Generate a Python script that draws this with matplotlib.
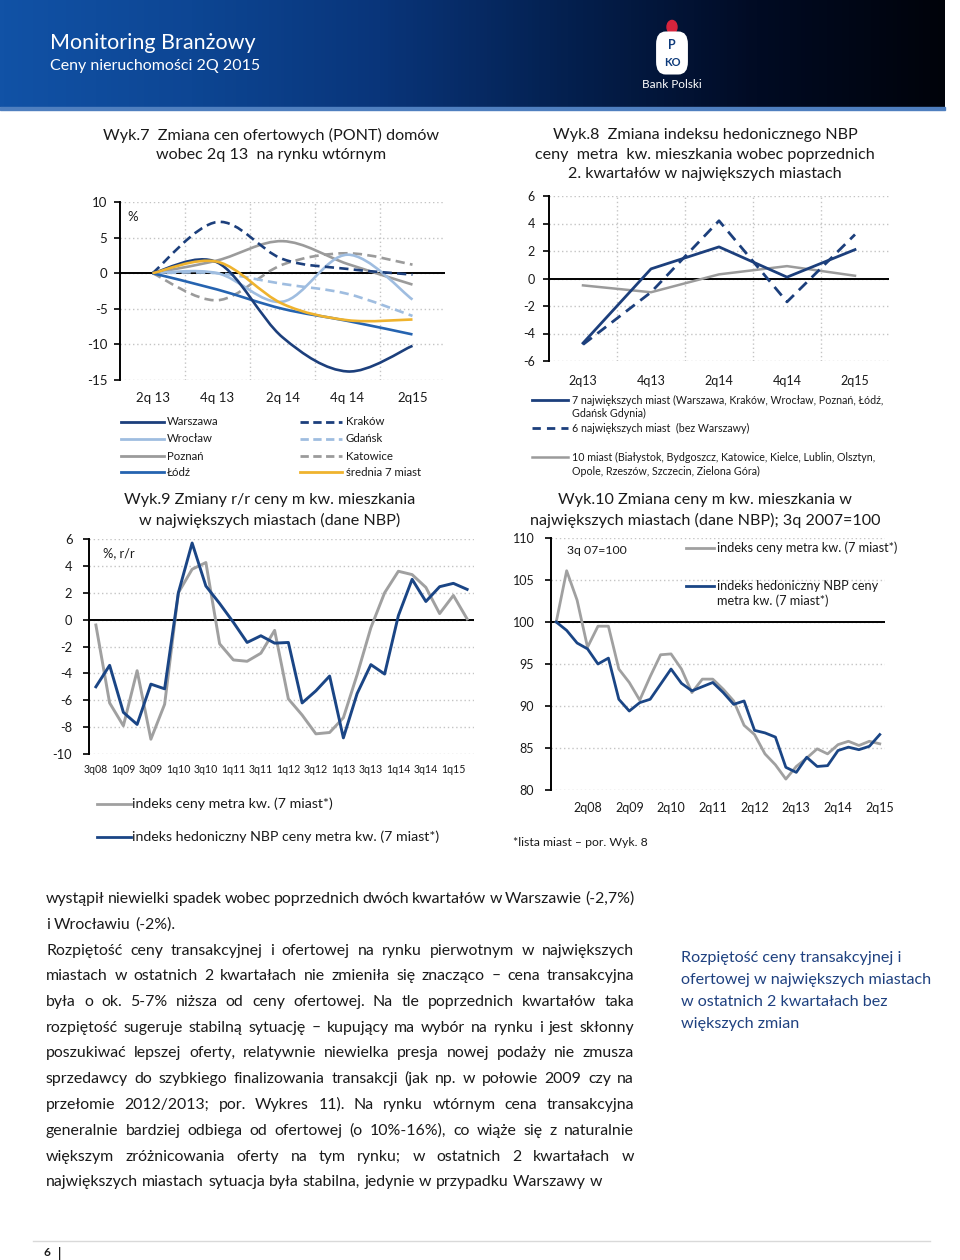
import numpy as np
import matplotlib
matplotlib.use("Agg")
import matplotlib.pyplot as plt
from matplotlib.path import Path
from matplotlib.patches import PathPatch, FancyBboxPatch, Circle, Rectangle
from matplotlib.lines import Line2D
from matplotlib.colors import LinearSegmentedColormap

plt.rcParams['font.family'] = ['Lato', 'DejaVu Sans']
plt.rcParams['axes.unicode_minus'] = False

# ---------------- data ----------------
# Wyk.7 (semi-annual points, % vs 2q13)
w7_labels = ["2q 13", "4q 13", "2q 14", "4q 14", "2q15"]
w7_warszawa = [0, 1.5, -9.0, -13.8, -10.2]
w7_wroclaw = [0, 0.0, -4.0, 2.6, -3.7]
w7_poznan = [0, 1.8, 4.5, 1.3, -1.6]
w7_lodz = [0, -2.3, -5.0, -6.7, -8.6]
w7_krakow = [0, 7.2, 2.0, 0.6, -0.2]
w7_gdansk = [0, 0.0, -1.5, -2.9, -6.0]
w7_katowice = [0, -3.8, 1.2, 2.8, 1.2]
w7_srednia = [0, 1.6, -4.3, -6.6, -6.5]

# Wyk.8
w8_labels = ["2q13", "4q13", "2q14", "4q14", "2q15"]
w8_7miast = [-4.7, 0.7, 2.3, 0.1, 2.1]
w8_6miast = [-4.8, -1.0, 4.2, -1.7, 3.2]
w8_10miast = [-0.5, -1.0, 0.3, 0.9, 0.2]

# Wyk.9 (quarterly 3q08..2q15, % r/r)
w9_labels = ["3q08", "1q09", "3q09", "1q10", "3q10", "1q11", "3q11", "1q12",
             "3q12", "1q13", "3q13", "1q14", "3q14", "1q15"]
w9_indeks = [-0.4, -6.2, -7.9, -3.8, -8.9, -6.3, 2.0, 3.75, 4.25, -1.8,
             -3.0, -3.1, -2.5, -0.8, -5.9, -7.1, -8.5, -8.4, -7.3, -4.1,
             -0.6, 2.0, 3.6, 3.35, 2.4, 0.45, 1.8, 0.05]
w9_hedon = [-5.0, -3.4, -6.9, -7.8, -4.8, -5.15, 2.0, 5.7, 2.5, 1.2,
            -0.2, -1.7, -1.2, -1.75, -1.7, -6.2, -5.3, -4.2, -8.8, -5.5,
            -3.35, -4.05, 0.3, 3.0, 1.35, 2.45, 2.7, 2.25]

# Wyk.10 (quarterly 3q07..2q15, 3q07=100)
w10_labels = ["2q08", "2q09", "2q10", "2q11", "2q12", "2q13", "2q14", "2q15"]
w10_indeks = [100, 106.1, 102.6, 97.0, 99.5, 99.5, 94.4, 92.8, 90.7, 93.5,
              96.1, 96.2, 94.4, 91.6, 93.2, 93.2, 92.0, 90.6, 87.7, 86.6,
              84.3, 83.0, 81.3, 82.8, 83.8, 84.9, 84.3, 85.4, 85.8, 85.3,
              85.8, 85.5]
w10_hedon = [100, 99.0, 97.5, 96.8, 95.0, 95.7, 90.8, 89.4, 90.4, 90.8,
             92.6, 94.4, 92.7, 91.8, 92.3, 92.8, 91.6, 90.2, 90.6, 87.1,
             86.8, 86.3, 82.7, 82.1, 83.9, 82.8, 82.9, 84.7, 85.1, 84.8,
             85.2, 86.6]

# ---------------- styles ----------------
W, H = 960, 1260
NAVY = '#1c3f7c'
MID = '#2563b0'
LIGHT = '#9fbde0'
GRAY = '#9b9b9b'
YELLOW = '#efb32e'
BLUE2 = '#1a4585'
TXT = '#1a1a1a'
GRID = '#c4c4c4'

fig = plt.figure(figsize=(W / 100, H / 100), dpi=100)


def T(x, y, s, size, ha='left', va='center', color=TXT, **kw):
    return fig.text(x / W, 1 - y / H, s, fontsize=size, ha=ha, va=va,
                    color=color, **kw)


def axes_px(l, t, r, b):
    return fig.add_axes([l / W, 1 - b / H, (r - l) / W, (b - t) / H])


def legline(x0, x1, y, color, lw=2.0, dashes=None):
    ln = Line2D([x0 / W, x1 / W], [1 - y / H, 1 - y / H], color=color, lw=lw,
                transform=fig.transFigure)
    if dashes:
        ln.set_dashes(dashes)
    fig.add_artist(ln)


def smooth_path(xs, ys):
    pts = list(zip(xs, ys))
    n = len(pts)
    verts = [pts[0]]
    codes = [Path.MOVETO]
    for i in range(n - 1):
        p0 = pts[i - 1] if i > 0 else pts[i]
        p1, p2 = pts[i], pts[i + 1]
        p3 = pts[i + 2] if i + 2 < n else pts[i + 1]
        c1 = (p1[0] + (p2[0] - p0[0]) / 6, p1[1] + (p2[1] - p0[1]) / 6)
        c2 = (p2[0] - (p3[0] - p1[0]) / 6, p2[1] - (p3[1] - p1[1]) / 6)
        verts += [c1, c2, p2]
        codes += [Path.CURVE4] * 3
    return Path(verts, codes)


def base_style(ax, ylim, yticks, xlim, base, ysize, ypad=4):
    ax.set_xlim(*xlim)
    ax.set_ylim(*ylim)
    for s in ['top', 'right', 'bottom']:
        ax.spines[s].set_visible(False)
    ax.spines['left'].set_linewidth(1.4)
    ax.spines['left'].set_color('black')
    ax.set_yticks(yticks)
    ax.tick_params(axis='y', direction='out', length=4, width=1.2, pad=ypad,
                   labelsize=ysize, labelcolor=TXT)
    ax.grid(axis='y', which='major', ls=(0, (1, 2)), color=GRID, lw=1.0)
    ax.set_axisbelow(True)
    ax.axhline(base, color='black', lw=1.4, zorder=1.5)
    ax.patch.set_alpha(0)


# ---------------- header ----------------
hax = fig.add_axes([0, 1 - 107 / H, 945 / W, 107 / H])
cmap = LinearSegmentedColormap.from_list(
    'hdr', ['#1152a6', '#0d4694', '#09357a', '#04204f', '#010b24', '#00030a'])
hax.imshow(np.linspace(0, 1, 256)[None, :], aspect='auto', cmap=cmap,
           extent=[0, 1, 0, 1])
hax.axis('off')
fig.add_artist(Rectangle((0, 1 - 110 / H), 945 / W, 3 / H, color='#4f7fbf',
                         transform=fig.transFigure))
T(50, 43, "Monitoring Branżowy", 15.5, color='white')
T(50, 66, "Ceny nieruchomości 2Q 2015", 11.5, color='white')
# logo
fig.add_artist(Circle((672 / W, 1 - 27 / H), 5 / W, color='#d8243c',
                      transform=fig.transFigure))
fig.add_artist(FancyBboxPatch((658 / W, 1 - 72 / H), 28 / W, 38 / H,
                              boxstyle='round,pad=0.002,rounding_size=0.010',
                              fc='white', ec='none', transform=fig.transFigure))
T(672, 45, "P", 9, ha='center', color='#0d3a7a', weight='bold')
T(672, 62, "KO", 8, ha='center', color='#0d3a7a', weight='bold')
T(672, 84, "Bank Polski", 8.5, ha='center', color='white')

# ---------------- Wyk.7 ----------------
T(271, 135, "Wyk.7  Zmiana cen ofertowych (PONT) domów", 11.6, ha='center')
T(271, 155, "wobec 2q 13  na rynku wtórnym", 11.6, ha='center')
ax7 = axes_px(120, 202, 445, 380)
base_style(ax7, (-15, 10), [-15, -10, -5, 0, 5, 10], (-0.5, 4.5), 0, 9.5, 5)
x7 = np.arange(len(w7_labels))
ax7.set_xticks(x7)
ax7.set_xticklabels(w7_labels)
ax7.set_xticks(x7[:-1] + 0.5, minor=True)
ax7.tick_params(axis='x', which='both', length=0, pad=9, labelsize=9.5,
                labelcolor=TXT)
ax7.grid(axis='x', which='minor', ls=(0, (1, 2)), color=GRID, lw=1.0)
series7 = [
    (w7_katowice, GRAY, '--'), (w7_gdansk, LIGHT, '--'), (w7_poznan, GRAY, '-'),
    (w7_wroclaw, LIGHT, '-'), (w7_krakow, NAVY, '--'), (w7_lodz, MID, '-'),
    (w7_warszawa, NAVY, '-'), (w7_srednia, YELLOW, '-'),
]
for ys, c, ls in series7:
    p = PathPatch(smooth_path(x7, ys), fill=False, ec=c, lw=1.9, zorder=3)
    if ls == '--':
        p.set_linestyle((0, (3.5, 2)))
    ax7.add_patch(p)
T(127, 217, "%", 9.5)

# legend 7
rows = [422, 439, 456, 472]
for y, name, c in zip(rows, ["Warszawa", "Wrocław", "Poznań", "Łódź"],
                      [NAVY, LIGHT, GRAY, MID]):
    legline(121, 164, y, c, 2.0)
    T(167, y, name, 8.2)
for y, name, c, dashed in zip(rows, ["Kraków", "Gdańsk", "Katowice", "średnia 7 miast"],
                              [NAVY, LIGHT, GRAY, YELLOW], [1, 1, 1, 0]):
    if dashed:
        legline(300, 342, y, c, 2.0, dashes=(3, 1.6))
    else:
        legline(300, 342, y, c, 2.0)
    T(346, y, name, 8.2)

# ---------------- Wyk.8 ----------------
T(705, 135, "Wyk.8  Zmiana indeksu hedonicznego NBP", 11.6, ha='center')
T(705, 155, "ceny  metra  kw. mieszkania wobec poprzednich", 11.6, ha='center')
T(705, 174, "2. kwartałów w największych miastach", 11.6, ha='center')
ax8 = axes_px(549, 196, 889, 361)
base_style(ax8, (-6, 6), [-6, -4, -2, 0, 2, 4, 6], (-0.5, 4.5), 0, 9, 6)
x8 = np.arange(len(w8_labels))
ax8.set_xticks(x8)
ax8.set_xticklabels(w8_labels)
ax8.set_xticks(x8[:-1] + 0.5, minor=True)
ax8.tick_params(axis='x', which='both', length=0, pad=10, labelsize=9,
                labelcolor=TXT)
ax8.grid(axis='x', which='minor', ls=(0, (1, 2)), color=GRID, lw=1.0)
ax8.plot(x8, w8_10miast, color=GRAY, lw=1.8, zorder=3)
ax8.plot(x8, w8_6miast, color=NAVY, lw=2.0, dashes=(4, 2.5), zorder=3)
ax8.plot(x8, w8_7miast, color=NAVY, lw=2.0, zorder=3)

legline(532, 568, 400, NAVY, 2.0)
T(572, 400, "7 największych miast (Warszawa, Kraków, Wrocław, Poznań, Łódź,", 7.7)
T(572, 413, "Gdańsk Gdynia)", 7.7)
legline(532, 568, 428, NAVY, 2.0, dashes=(3, 2.2))
T(572, 428, "6 największych miast  (bez Warszawy)", 7.7)
legline(532, 568, 457, GRAY, 1.8)
T(572, 457, "10 miast (Białystok, Bydgoszcz, Katowice, Kielce, Lublin, Olsztyn,", 7.7)
T(572, 471, "Opole, Rzeszów, Szczecin, Zielona Góra)", 7.7)

# ---------------- Wyk.9 ----------------
T(270, 500, "Wyk.9 Zmiany r/r ceny m kw. mieszkania", 11.6, ha='center')
T(270, 520, "w największych miastach (dane NBP)", 11.6, ha='center')
ax9 = axes_px(89, 539, 474, 754)
base_style(ax9, (-10, 6), list(range(-10, 7, 2)), (-0.5, 27.5), 0, 9.3, 8)
ax9.set_xticks(np.arange(0, 27, 2))
ax9.set_xticklabels(w9_labels)
ax9.tick_params(axis='x', length=0, pad=7, labelsize=7.6, labelcolor=TXT)
x9 = np.arange(len(w9_hedon))
ax9.plot(x9, w9_indeks, color='#a0a0a0', lw=2.1, zorder=3)
ax9.plot(x9, w9_hedon, color=BLUE2, lw=2.1, zorder=3)
T(103, 553, "%, r/r", 9.3)
legline(97, 131, 804, '#a0a0a0', 2.0)
T(132, 804, "indeks ceny metra kw. (7 miast*)", 10.2)
legline(97, 131, 837, BLUE2, 2.0)
T(132, 837, "indeks hedoniczny NBP ceny metra kw. (7 miast*)", 10.2)

# ---------------- Wyk.10 ----------------
T(705, 500, "Wyk.10 Zmiana ceny m kw. mieszkania w", 11.6, ha='center')
T(705, 520, "największych miastach (dane NBP); 3q 2007=100", 11.6, ha='center')
ax10 = axes_px(551, 538, 885, 790)
base_style(ax10, (80, 110), list(range(80, 111, 5)), (-0.5, 31.5), 100, 9, 8)
ax10.set_xticks(np.arange(3, 32, 4))
ax10.set_xticklabels(w10_labels)
ax10.tick_params(axis='x', length=0, pad=9, labelsize=9, labelcolor=TXT)
x10 = np.arange(len(w10_hedon))
ax10.plot(x10, w10_indeks, color='#a0a0a0', lw=2.0, zorder=3)
ax10.plot(x10, w10_hedon, color=BLUE2, lw=2.0, zorder=3)
T(567, 550, "3q 07=100", 8.8)
legline(686, 714, 548, '#a0a0a0', 2.0)
T(717, 548, "indeks ceny metra kw. (7 miast*)", 9.2)
legline(686, 714, 586, BLUE2, 2.0)
T(717, 586, "indeks hedoniczny NBP ceny", 9.2)
T(717, 601, "metra kw. (7 miast*)", 9.2)
T(513, 842, "*lista miast – por. Wyk. 8", 8.8)

# ---------------- body text ----------------
body_lines = [
    ("wystąpił niewielki spadek wobec poprzednich dwóch kwartałów w Warszawie (-2,7%)", True),
    ("i Wrocławiu (-2%).", False),
    ("Rozpiętość ceny transakcyjnej i ofertowej na rynku pierwotnym w największych", True),
    ("miastach w ostatnich 2 kwartałach nie zmieniła się znacząco – cena transakcyjna", True),
    ("była o ok. 5-7% niższa od ceny ofertowej. Na tle poprzednich kwartałów taka", True),
    ("rozpiętość sugeruje stabilną sytuację – kupujący ma wybór na rynku i jest skłonny", True),
    ("poszukiwać lepszej oferty, relatywnie niewielka presja nowej podaży nie zmusza", True),
    ("sprzedawcy do szybkiego finalizowania transakcji (jak np. w połowie 2009 czy na", True),
    ("przełomie 2012/2013; por. Wykres 11). Na rynku wtórnym cena transakcyjna", True),
    ("generalnie bardziej odbiega od ofertowej (o 10%-16%), co wiąże się z naturalnie", True),
    ("większym zróżnicowania oferty na tym rynku; w ostatnich 2 kwartałach w", True),
    ("największych miastach sytuacja była stabilna, jedynie w przypadku Warszawy w", False),
]
body_y = [898, 924, 950, 975, 1001, 1027, 1052, 1078, 1104, 1130, 1156, 1181]
renderer = fig.canvas.get_renderer()
BODY_SIZE = 11.4
sp_a = T(0, 0, "a a", BODY_SIZE)
sp_b = T(0, 0, "aa", BODY_SIZE)
space_w = (sp_a.get_window_extent(renderer).width
           - sp_b.get_window_extent(renderer).width)
sp_a.remove()
sp_b.remove()
for (line, just), y in zip(body_lines, body_y):
    words = line.split(' ')
    ts = [T(46, y + 5, w, BODY_SIZE, va='baseline') for w in words]
    widths = [t.get_window_extent(renderer).width for t in ts]
    gap = (634 - 46 - sum(widths)) / (len(words) - 1) if just else space_w
    x = 46
    for t, wd in zip(ts, widths):
        t.set_x(x / W)
        x += wd + gap

side = ["Rozpiętość ceny transakcyjnej i", "ofertowej w największych miastach",
        "w ostatnich 2 kwartałach bez", "większych zmian"]
for s, y in zip(side, [958, 980, 1002, 1024]):
    T(681, y, s, 11.6, color='#1f4180')

# footer
fig.add_artist(Line2D([33 / W, 930 / W], [1 - 1241 / H] * 2, color='#d9d9d9',
                      lw=1.0, transform=fig.transFigure))
T(44, 1253, "6", 8.5, weight='bold')
T(58, 1253, "|", 9, weight='bold')

fig.savefig("out.png", dpi=100)
